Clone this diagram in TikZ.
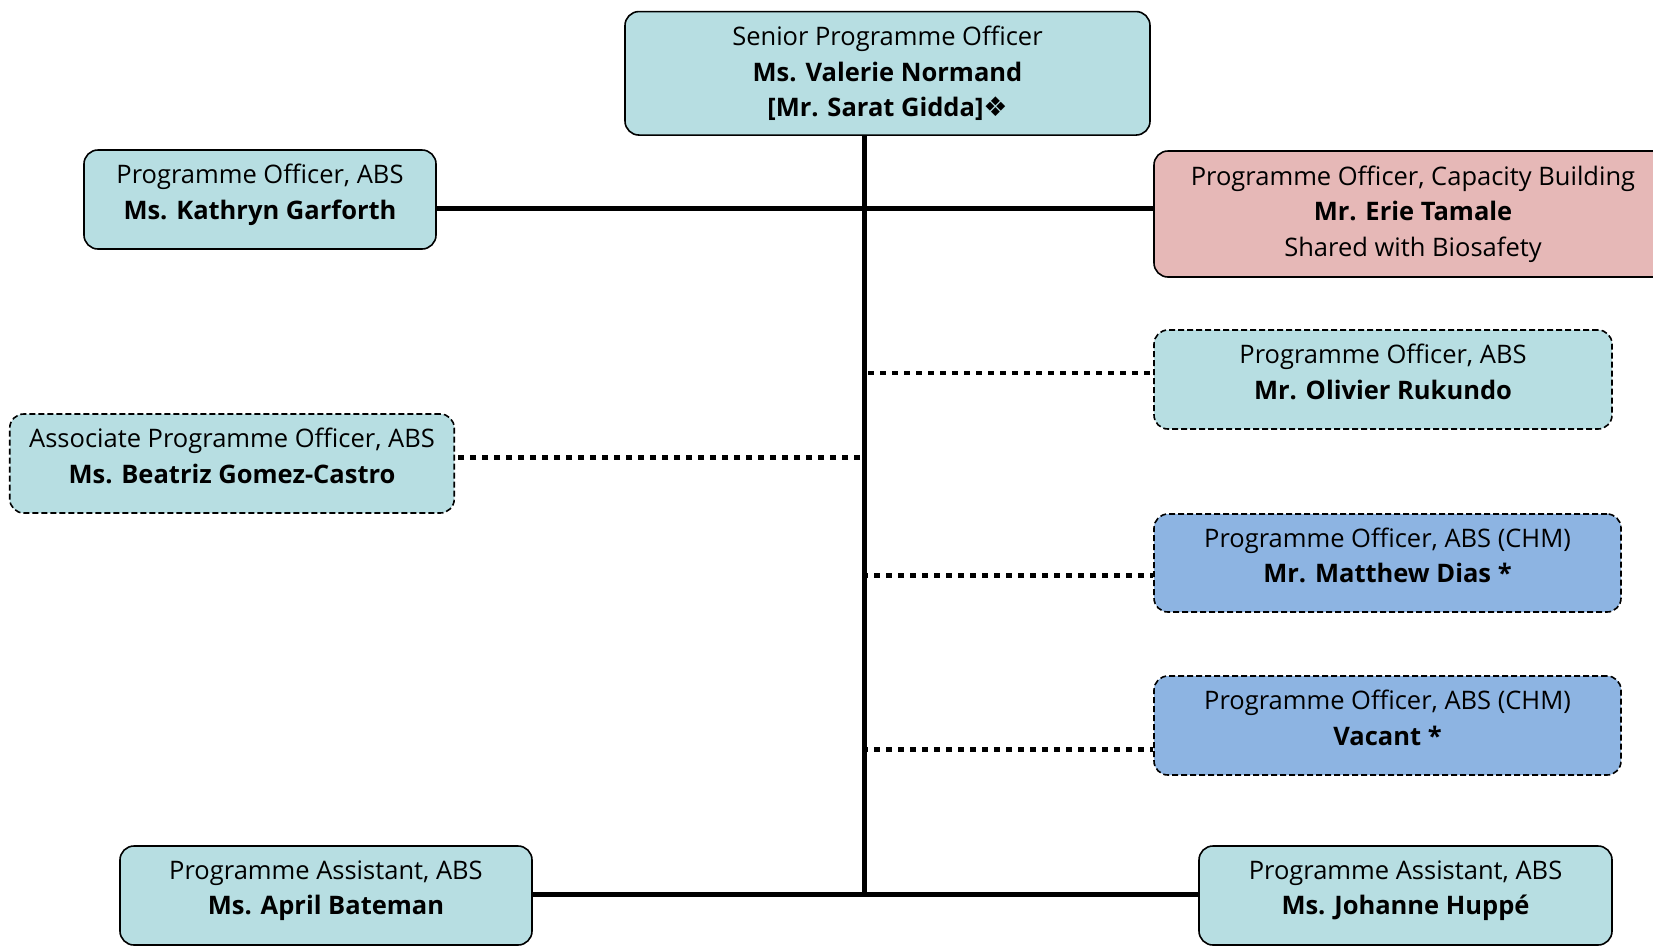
\documentclass[tikz,border=0pt]{standalone}
\usepackage{fontspec}
\setmainfont{Open Sans}
\newfontfamily\djv{DejaVu Sans}
\definecolor{cteal}{HTML}{B7DEE2}
\definecolor{cred}{HTML}{E6B8B7}
\definecolor{cblue}{HTML}{8DB4E2}
\tikzset{
  box/.style={draw, line width=1.6pt, rounded corners=14pt, align=center, inner sep=0pt,
    font=\fontsize{25.5}{35.5}\selectfont},
  tealbox/.style={box, fill=cteal},
  redbox/.style={box, fill=cred},
  bluebox/.style={box, fill=cblue},
  dbox/.style={dash pattern=on 6pt off 3pt},
  twoline/.style={text depth=16pt},
  solidline/.style={line width=5pt},
  dotline/.style={line width=4.5pt, dash pattern=on 6pt off 6pt},
}
\begin{document}
\begin{tikzpicture}[x=1pt,y=-1pt]
\useasboundingbox (0,0) rectangle (1653,948);
\begin{scope}
\clip (0,0) rectangle (1653,948);
% coordinates for the trunk
\coordinate (vtop) at (864,135);
\coordinate (vbot) at (864,894);
\coordinate (h1) at (864,208);
\coordinate (d1) at (868,373);
\coordinate (d2) at (860,457.5);
\coordinate (d3) at (862,575.6);
\coordinate (d4) at (862,749.5);

\node[tealbox, minimum width=525pt, minimum height=123.5pt] (top) at (887.5,73.3)
  {Senior Programme Officer\\\textbf{Ms. Valerie Normand}\\\textbf{[Mr. Sarat Gidda]}{\djv\fontsize{27}{30}\selectfont ❖}};
\node[tealbox, twoline, minimum width=352pt, minimum height=99pt] (kath) at (260,199.5)
  {Programme Officer, ABS\\\textbf{Ms. Kathryn Garforth}};
\node[redbox, minimum width=518pt, minimum height=126pt] (red) at (1413,214)
  {Programme Officer, Capacity Building\\\textbf{Mr. Erie Tamale}\\Shared with Biosafety};
\node[tealbox, dbox, twoline, minimum width=458pt, minimum height=99pt] (oliv) at (1383,379.5)
  {Programme Officer, ABS\\\textbf{Mr. Olivier Rukundo}};
\node[tealbox, dbox, twoline, minimum width=444.5pt, minimum height=99pt] (beat) at (232,463.5)
  {Associate Programme Officer, ABS\\\textbf{Ms. Beatriz Gomez-Castro}};
\node[bluebox, dbox, twoline, minimum width=467pt, minimum height=98pt] (matt) at (1387.5,563)
  {Programme Officer, ABS (CHM)\\\textbf{Mr. Matthew Dias *}};
\node[bluebox, dbox, twoline, minimum width=467pt, minimum height=99pt] (vac) at (1387.5,725.5)
  {Programme Officer, ABS (CHM)\\\textbf{Vacant *}};
\node[tealbox, twoline, minimum width=412pt, minimum height=99pt] (april) at (326,895.5)
  {Programme Assistant, ABS\\\textbf{Ms. April Bateman}};
\node[tealbox, twoline, minimum width=413pt, minimum height=99pt] (joh) at (1405.5,895.5)
  {Programme Assistant, ABS\\\textbf{Ms. Johanne Huppé}};

\draw[solidline] (vtop) -- (vbot);
\draw[solidline] (h1 -| kath.east) -- (h1 -| red.west);
\draw[solidline] (vbot -| april.east) -- (vbot -| joh.west);
\draw[dotline] (d1) -- (d1 -| oliv.west);
\draw[dotline] (d2) -- (d2 -| beat.east);
\draw[dotline] (d3) -- (d3 -| matt.west);
\draw[dotline] (d4) -- (d4 -| vac.west);
\end{scope}
\end{tikzpicture}
\end{document}
